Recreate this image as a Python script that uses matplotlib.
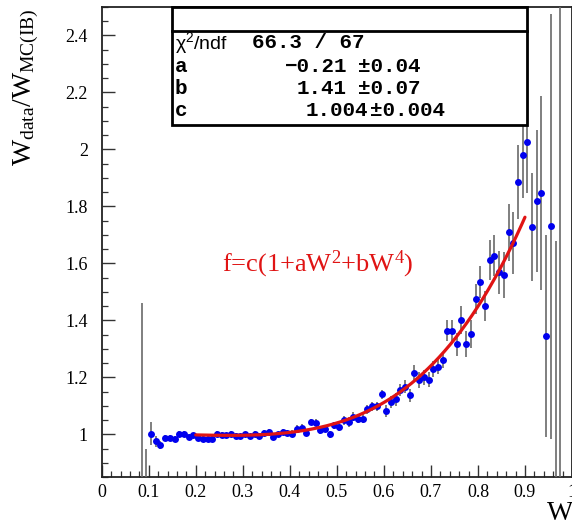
import numpy as np
import matplotlib
matplotlib.use('Agg')
import matplotlib.pyplot as plt
from matplotlib.patches import Rectangle
from matplotlib.lines import Line2D
from matplotlib.ticker import FixedLocator, FixedFormatter, MultipleLocator

# ---------------- data ----------------
W = [0.085, 0.095, 0.105, 0.115, 0.125, 0.135, 0.145, 0.155, 0.165, 0.175,
     0.185, 0.195, 0.205, 0.215, 0.225, 0.235, 0.245, 0.255, 0.265, 0.275,
     0.285, 0.295, 0.305, 0.315, 0.325, 0.335, 0.345, 0.355, 0.365, 0.375,
     0.385, 0.395, 0.405, 0.415, 0.425, 0.435, 0.445, 0.455, 0.465, 0.475,
     0.485, 0.495, 0.505, 0.515, 0.525, 0.535, 0.545, 0.555, 0.565, 0.575,
     0.585, 0.595, 0.605, 0.615, 0.625, 0.635, 0.645, 0.655, 0.665, 0.675,
     0.685, 0.695, 0.705, 0.715, 0.725, 0.735, 0.745, 0.755, 0.765, 0.775,
     0.785, 0.795, 0.805, 0.815, 0.825, 0.835, 0.845, 0.855, 0.865, 0.875,
     0.885, 0.895, 0.905, 0.915, 0.925, 0.935, 0.945, 0.955, 0.965, 0.975]

ratio = [0.55, 0.60, 1.002, 0.975, 0.961, 0.988, 0.988, 0.985, 1.000, 1.002,
         0.991, 0.996, 0.988, 0.985, 0.985, 0.985, 1.002, 0.999, 0.996, 1.002,
         0.994, 0.993, 1.000, 0.993, 1.002, 0.994, 1.005, 1.008, 0.991, 1.000,
         1.008, 1.006, 1.002, 1.020, 1.023, 1.005, 1.043, 1.041, 1.014, 1.020,
         1.000, 1.032, 1.026, 1.049, 1.043, 1.061, 1.055, 1.055, 1.087, 1.099,
         1.099, 1.141, 1.081, 1.114, 1.123, 1.155, 1.167, 1.137, 1.216, 1.190,
         1.200, 1.192, 1.229, 1.237, 1.260, 1.364, 1.364, 1.316, 1.401, 1.316,
         1.352, 1.474, 1.536, 1.451, 1.613, 1.627, 1.568, 1.560, 1.710, 1.671,
         1.886, 1.980, 2.026, 1.727, 1.818, 1.848, 1.346, 1.730, 0.600, 2.900]

err = [0.91, 0.35, 0.040, 0.020, 0.014, 0.010, 0.010, 0.010, 0.010, 0.010,
       0.010, 0.010, 0.009, 0.009, 0.009, 0.009, 0.009, 0.009, 0.009, 0.009,
       0.009, 0.009, 0.009, 0.009, 0.009, 0.009, 0.009, 0.009, 0.009, 0.009,
       0.009, 0.009, 0.012, 0.012, 0.012, 0.012, 0.012, 0.012, 0.012, 0.012,
       0.012, 0.012, 0.016, 0.016, 0.016, 0.016, 0.016, 0.016, 0.016, 0.016,
       0.016, 0.016, 0.022, 0.022, 0.022, 0.022, 0.022, 0.022, 0.027, 0.027,
       0.027, 0.027, 0.027, 0.027, 0.027, 0.038, 0.038, 0.040, 0.050, 0.045,
       0.050, 0.053, 0.056, 0.053, 0.070, 0.073, 0.077, 0.080, 0.100, 0.110,
       0.130, 0.150, 0.180, 0.190, 0.250, 0.340, 0.355, 0.745, 1.080, 2.060]

fit_a, fit_b, fit_c = -0.21, 1.41, 1.004
fit_a_err, fit_b_err, fit_c_err = 0.04, 0.07, 0.004
fit_range = (0.2, 0.9)
chi2, ndf = 66.3, 67

xtick_vals = [0.0, 0.1, 0.2, 0.3, 0.4, 0.5, 0.6, 0.7, 0.8, 0.9, 1.0]
xtick_labels = ['0', '0.1', '0.2', '0.3', '0.4', '0.5', '0.6', '0.7', '0.8', '0.9', '1']
ytick_vals = [1.0, 1.2, 1.4, 1.6, 1.8, 2.0, 2.2, 2.4]
ytick_labels = ['1', '1.2', '1.4', '1.6', '1.8', '2', '2.2', '2.4']

# ---------------- style ----------------
plt.rcParams['mathtext.fontset'] = 'custom'
plt.rcParams['mathtext.rm'] = 'Liberation Serif'
plt.rcParams['mathtext.it'] = 'Liberation Serif:italic'
plt.rcParams['mathtext.default'] = 'regular'
SERIF = 'Liberation Serif'
MONO = 'Liberation Mono'

FW, FH = 572, 520
def fx(x): return x / FW
def fy(y): return 1 - y / FH

fig = plt.figure(figsize=(FW / 100, FH / 100), dpi=100)
L, R, B, T = 101.7, 572.0, 477.0, 7.0
ax = fig.add_axes([fx(L), fy(B), (R - L) / FW, (B - T) / FH])
ax.set_xlim(0, 1)
ax.set_ylim(0.85, 2.5)

for s in ax.spines.values():
    s.set_linewidth(1.3)
    s.set_color('#222222')

ax.xaxis.set_major_locator(FixedLocator(xtick_vals))
ax.xaxis.set_major_formatter(FixedFormatter(xtick_labels))
ax.xaxis.set_minor_locator(MultipleLocator(0.02))
ax.yaxis.set_major_locator(FixedLocator(ytick_vals))
ax.yaxis.set_major_formatter(FixedFormatter(ytick_labels))
ax.yaxis.set_minor_locator(MultipleLocator(0.05))
ax.tick_params(which='both', direction='in', top=False, right=False, color='#333333')
ax.tick_params(which='major', length=9, width=1.0)
ax.tick_params(which='minor', length=4.5, width=0.9)
ax.tick_params(axis='x', which='major', pad=5, labelsize=13)
ax.tick_params(axis='y', which='major', pad=10, labelsize=13)
for lab in ax.get_xticklabels() + ax.get_yticklabels():
    lab.set_fontfamily(SERIF)

# data points
ax.errorbar(W, ratio, yerr=err, fmt='o', color='#0000ee', ms=5.0, mew=0,
            ecolor='#6a6a6a', elinewidth=1.2, capsize=0, zorder=3)

# fit curve
xf = np.linspace(fit_range[0], fit_range[1], 300)
yf = fit_c * (1 + fit_a * xf**2 + fit_b * xf**4)
ax.plot(xf, yf, color='#e01414', lw=2.3, solid_capstyle='round', zorder=4)

# formula text
fig.text(fx(222), fy(271), 'f=c(1+aW$^2$+bW$^4$)', color='#e01414',
         fontsize=19, family=SERIF, ha='left', va='baseline')

# axis titles
fig.text(fx(26), fy(9), 'W$_{data}$/W$_{MC(IB)}$', rotation=90, fontsize=20,
         family=SERIF, ha='center', va='top')
fig.text(fx(547), fy(520), 'W', fontsize=20, family=SERIF, ha='left', va='baseline')

# stats box
bx0, bx1, by0, by1 = 172, 527, 7, 125
fig.patches.append(Rectangle((fx(bx0), fy(by1)), (bx1 - bx0) / FW, (by1 - by0) / FH,
                             transform=fig.transFigure, facecolor='white',
                             edgecolor='black', lw=2.0, zorder=5))
fig.lines.append(Line2D([fx(bx0), fx(bx1)], [fy(31), fy(31)], transform=fig.transFigure,
                        color='black', lw=2.0, zorder=6))

fig.text(fx(175), fy(43), r'$\chi^2$/ndf', family='Liberation Sans', fontsize=14,
         math_fontfamily='dejavusans', ha='left', va='center', zorder=7)
fig.text(fx(252), fy(43), f'{chi2:g} / {ndf}', family=MONO, weight='bold',
         fontsize=15, ha='left', va='center', zorder=7)
rows = [('a', f'{fit_a:.2f}'.replace('-', '\u2212'), f'\u00b1{fit_a_err:.2f}', 67, 347, 358),
        ('b', f'{fit_b:.2f}', f'\u00b1{fit_b_err:.2f}', 88, 347, 358),
        ('c', f'{fit_c:.3f}', f'\u00b1{fit_c_err:.3f}', 111, 368, 370)]
for name, val, e, yy, xr, xe in rows:
    fig.text(fx(175), fy(yy), name, family=MONO, weight='bold', fontsize=15,
             ha='left', va='center', zorder=7)
    fig.text(fx(xr), fy(yy), val, family=MONO, weight='bold', fontsize=15,
             ha='right', va='center', zorder=7)
    fig.text(fx(xe), fy(yy), e, family=MONO, weight='bold', fontsize=15,
             ha='left', va='center', zorder=7)

fig.savefig('out.png', dpi=100)
